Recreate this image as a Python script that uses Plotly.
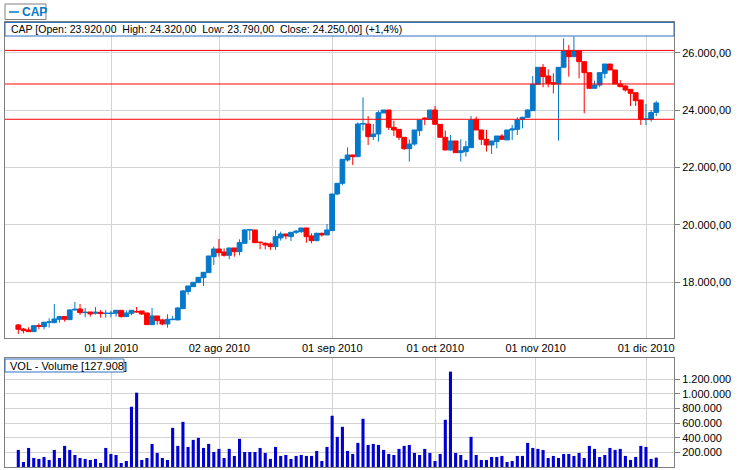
import plotly.graph_objects as go

# ---------------- data ----------------
opens = [16513,16374,16339,16281,16490,16455,16606,16595,16711,16804,
         16699,17036,17071,16945,16966,16920,16955,16915,16915,16920,
         17024,16804,16920,16985,17001,16932,16525,16827,16688,16548,
         16700,16688,17082,17675,17849,17988,18162,18337,18894,19161,
         19057,18940,19196,19068,19359,19823,19823,19400,19359,19336,
         19243,19545,19684,19591,19742,19765,19893,19614,19452,19707,
         19649,19800,21077,21449,22262,22436,22378,23516,23516,23075,
         23168,23900,24004,23400,23330,23052,22657,22819,23284,23725,
         23679,24004,23504,23052,22610,22924,22517,22552,22691,23679,
         23307,22982,22785,22901,23098,22959,23307,23330,23679,23748,
         23981,24898,25490,25188,24956,24910,25490,26071,25862,26071,
         25688,25305,24759,24875,25281,25606,25398,24910,24840,24724,
         24608,24352,23679,23679,23920]
highs = [16548,16409,16432,16513,16571,16630,16746,17245,16827,16827,
         17059,17315,17245,17105,16966,17140,17036,17036,17013,17024,
         17024,17024,17024,17140,17001,16932,17105,16827,16734,16885,
         16827,17140,17733,17872,18000,18174,18348,18917,19242,19510,
         19184,19196,19196,19498,19858,19858,19823,19417,19393,19393,
         19823,19765,19684,19742,19823,19893,19893,19707,19730,19730,
         20032,21077,21449,22285,22703,22436,23574,24445,23795,23516,
         23981,24004,24004,23632,23330,23052,22982,23307,23655,23748,
         24004,24143,23504,23284,23133,22924,22982,22924,23795,23772,
         23307,23307,22924,23098,23168,23307,23481,23748,23772,24027,
         25188,25490,25606,25421,25281,25490,26501,26268,26559,26071,
         25688,25305,25026,25305,25606,25606,25398,25049,24875,24724,
         24608,24352,24213,24004,24320]
lows = [16200,16223,16270,16270,16362,16362,16420,16571,16595,16630,
        16699,17013,16862,16780,16804,16873,16769,16769,16780,16804,
        16769,16804,16850,16943,16862,16525,16525,16525,16502,16420,
        16676,16676,17082,17570,17849,17988,17872,18337,18604,18894,
        18894,18801,18894,18940,19359,19475,19359,19150,19150,19127,
        19127,19452,19498,19440,19684,19707,19382,19359,19429,19591,
        19649,19800,21042,21379,22204,22088,22378,23284,22785,22959,
        22901,23900,23307,23098,22959,22610,22204,22761,23098,23481,
        23679,23504,23052,22610,22587,22517,22204,22378,22691,23307,
        22785,22552,22471,22668,22959,22959,22959,23133,23365,23748,
        23981,24898,24794,24794,24585,22936,25490,25165,25862,25107,
        23888,24759,24759,24794,25107,25398,24910,24794,24643,24143,
        24143,23481,23481,23597,23790]
closes = [16362,16316,16281,16490,16470,16606,16620,16722,16804,16711,
          17036,17059,16943,16955,16897,16955,16908,16920,16922,17024,
          16804,16932,17024,16970,16897,16525,16827,16664,16548,16711,
          16711,17105,17698,17872,18000,18174,18348,18917,19161,19033,
          18940,19196,19068,19382,19823,19835,19382,19385,19301,19243,
          19591,19684,19614,19742,19777,19893,19591,19452,19707,19649,
          19823,21077,21449,22285,22436,22378,23516,23530,23075,23168,
          23911,24004,23400,23307,23052,22657,22819,23307,23655,23700,
          24004,23504,23052,22610,22924,22517,22587,22726,23655,23307,
          22982,22785,22924,23098,22982,23307,23342,23656,23748,24004,
          24898,25490,25165,24933,24910,25490,26071,25862,26071,25688,
          25305,24759,24875,25305,25606,25398,24910,24817,24701,24585,
          24329,23679,23690,23915,24250]
volumes = [233000,68000,260000,123000,110000,137000,96000,233000,123000,288000,
           233000,164000,123000,110000,96000,110000,55000,260000,178000,164000,
           55000,82000,822000,1014000,96000,123000,315000,192000,123000,96000,
           534000,288000,616000,274000,370000,397000,260000,315000,205000,247000,
           123000,247000,151000,384000,205000,205000,205000,260000,192000,110000,
           274000,151000,164000,110000,151000,164000,151000,151000,219000,82000,
           274000,699000,411000,548000,219000,178000,329000,658000,301000,315000,
           301000,233000,178000,164000,247000,288000,301000,192000,164000,247000,
           192000,82000,178000,644000,1301000,192000,164000,96000,411000,164000,
           96000,96000,137000,137000,151000,68000,82000,151000,151000,329000,
           260000,247000,233000,123000,151000,123000,178000,178000,151000,192000,
           123000,288000,247000,137000,164000,260000,233000,247000,151000,96000,
           137000,288000,274000,110000,127908]
sessions = list(range(1, len(closes) + 1))

month_ticks = [19.08, 40.07, 62.03, 82.05, 101.56, 123.06]
month_labels = ["01 jul 2010", "02 ago 2010", "01 sep 2010",
                "01 oct 2010", "01 nov 2010", "01 dic 2010"]
price_ticks = [18000, 20000, 22000, 24000, 26000]
volume_ticks = [200000, 400000, 600000, 800000, 1000000, 1200000]
levels = [26080, 24910, 23680]

# ---------------- styling ----------------
BLUE = "#0579C9"
RED = "#FF0000"
VOLC = "#0000D2"
GRID = "#D3D3D3"
AXIS = "#808080"
BOXB = "#3070C4"
FONT = "Liberation Sans, Arial, sans-serif"
W, H = 745, 470
L, R = 5, 71
PW = W - L - R


def py(pix):  # pixel row -> paper y
    return (H - pix) / H


def px(pix):  # pixel column -> paper x
    return (pix - L) / PW


def it(v, dec=2):
    s = f"{v:,.{dec}f}"
    return s.replace(",", "X").replace(".", ",").replace("X", ".")


fig = go.Figure()
fig.add_trace(go.Candlestick(
    x=sessions, open=opens, high=highs, low=lows, close=closes,
    xaxis="x", yaxis="y", whiskerwidth=0, showlegend=False,
    increasing=dict(line=dict(color=BLUE, width=1), fillcolor=BLUE),
    decreasing=dict(line=dict(color=RED, width=1), fillcolor=RED),
))
fig.add_trace(go.Bar(
    x=sessions, y=volumes, xaxis="x2", yaxis="y2", width=0.6,
    marker=dict(color=VOLC, line=dict(width=0)), showlegend=False,
))

xr = [-1.585, 128.45]
common_x = dict(range=xr, tickvals=month_ticks, ticktext=month_labels,
                showgrid=True, gridcolor=GRID, gridwidth=1, zeroline=False,
                showline=True, linecolor=AXIS, linewidth=1, mirror=True,
                ticks="", fixedrange=True)
fig.update_layout(
    width=W, height=H, margin=dict(l=L, r=R, t=0, b=0),
    paper_bgcolor="white", plot_bgcolor="white",
    separators=",.", showlegend=False, boxgap=0.08, boxgroupgap=0.0,
    font=dict(family=FONT, size=11, color="black"),
    xaxis=dict(domain=[0, 1], anchor="y", rangeslider=dict(visible=False),
               tickfont=dict(size=11, color="black"), **common_x),
    xaxis2=dict(domain=[0, 1], anchor="y2", matches="x", showticklabels=False,
                **common_x),
    yaxis=dict(domain=[py(338), py(22)], range=[16059, 27070], side="right",
               tickvals=price_ticks, tickformat=",.2f", ticks="outside",
               ticklen=5, tickcolor=AXIS, showgrid=True, gridcolor=GRID,
               zeroline=False, showline=True, linecolor=AXIS, mirror=True,
               tickfont=dict(size=11, color="black"), fixedrange=True),
    yaxis2=dict(domain=[py(467), py(358)], range=[0, 1487000], side="right",
                tickvals=volume_ticks, tickformat=",d", ticks="outside",
                ticklen=5, tickcolor=AXIS, showgrid=True, gridcolor=GRID,
                zeroline=False, showline=True, linecolor=AXIS, mirror=True,
                tickfont=dict(size=11, color="black"), fixedrange=True),
)

shapes = []
for lv in levels:
    shapes.append(dict(type="line", xref="x domain", yref="y", x0=0, x1=1,
                       y0=lv, y1=lv, line=dict(color=RED, width=1)))
# header box of price panel
shapes.append(dict(type="rect", xref="paper", yref="paper", x0=0, x1=1,
                   y0=py(36), y1=py(22.5), fillcolor="white",
                   line=dict(color=BOXB, width=1)))
# legend box
shapes.append(dict(type="rect", xref="paper", yref="paper", x0=px(5), x1=px(46),
                   y0=py(19.5), y1=py(4), fillcolor="white",
                   line=dict(color=AXIS, width=1)))
shapes.append(dict(type="line", xref="paper", yref="paper", x0=px(9), x1=px(19),
                   y0=py(12), y1=py(12), line=dict(color=BLUE, width=1.5)))
# volume label box
shapes.append(dict(type="rect", xref="paper", yref="paper", x0=px(5), x1=px(124),
                   y0=py(372), y1=py(359), fillcolor="white",
                   line=dict(color=BOXB, width=1)))
fig.update_layout(shapes=shapes)

pct = (closes[-1] - closes[-2]) / closes[-2] * 100
gap = "\u00a0" * 2
header = (f"CAP [Open: {it(opens[-1])}{gap}High: {it(highs[-1])}{gap}"
          f"Low: {it(lows[-1])}{gap}Close: {it(closes[-1])}] "
          "(" + f"{pct:+.1f}".replace(".", ",") + "%)")

vol_label = f"VOL - Volume [{volumes[-1]:,}]".replace(",", ".")

fig.add_annotation(text=header, xref="paper", yref="paper", x=px(9), y=py(29.5),
                   xanchor="left", yanchor="middle", showarrow=False,
                   font=dict(size=10.5, color="black", family=FONT))
fig.add_annotation(text="<b>CAP</b>", xref="paper", yref="paper", x=px(20), y=py(12),
                   xanchor="left", yanchor="middle", showarrow=False,
                   font=dict(size=12, color=BLUE, family=FONT))
fig.add_annotation(text=vol_label, xref="paper", yref="paper", x=px(8), y=py(365.5),
                   xanchor="left", yanchor="middle", showarrow=False,
                   font=dict(size=11, color="black", family=FONT))

fig.write_html("out.html", config={"displayModeBar": False},
               post_script="document.body.style.margin='0';"
                           "document.body.style.overflow='hidden';")
